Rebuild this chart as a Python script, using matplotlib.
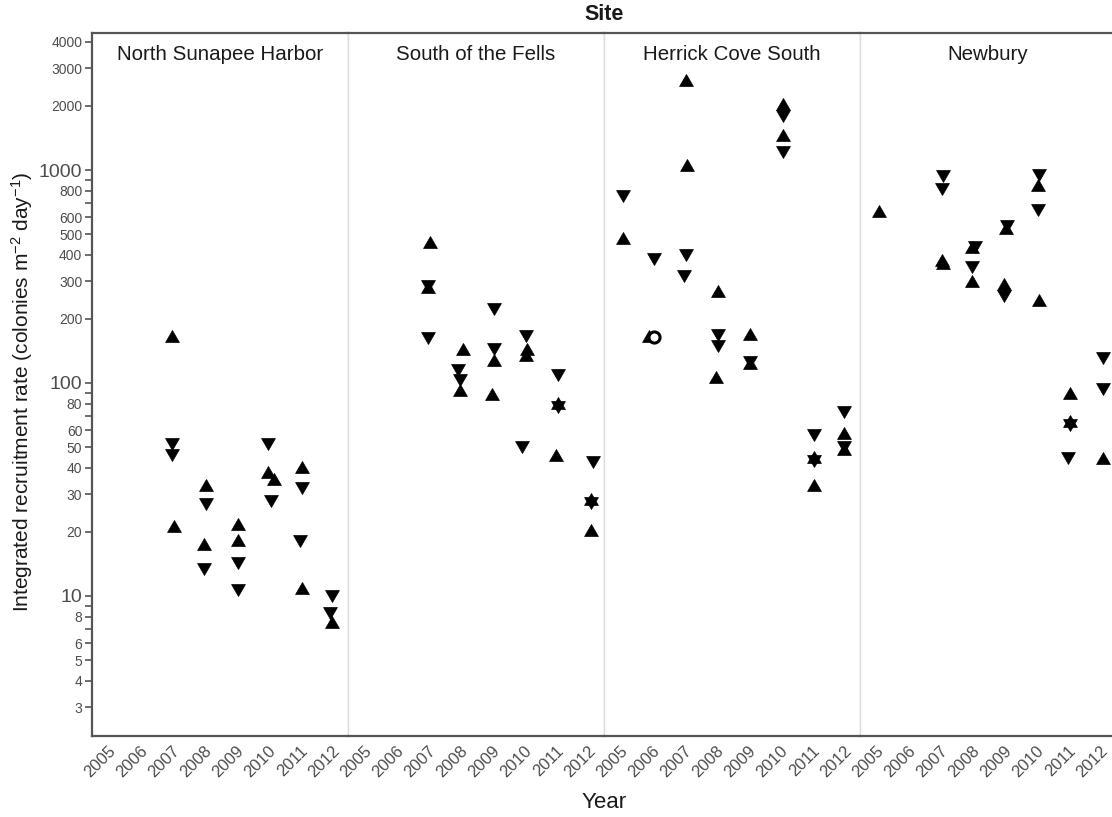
import matplotlib.pyplot as plt
import numpy as np
from matplotlib.path import Path
from matplotlib.ticker import FixedLocator, NullFormatter
from matplotlib.transforms import ScaledTranslation

plt.rcParams["font.family"] = ["Liberation Sans", "DejaVu Sans"]
plt.rcParams["mathtext.fontset"] = "custom"
plt.rcParams["mathtext.rm"] = "Liberation Sans"
plt.rcParams["mathtext.it"] = "Liberation Sans:italic"

YEARS = [2005, 2006, 2007, 2008, 2009, 2010, 2011, 2012]
SITES = ["North Sunapee Harbor", "South of the Fells", "Herrick Cove South", "Newbury"]

# North Sunapee Harbor
NSH_YEARS = [2007, 2007, 2007, 2007, 2008, 2008, 2008, 2008, 2009, 2009, 2009, 2009,
             2010, 2010, 2010, 2010, 2011, 2011, 2011, 2011, 2012, 2012, 2012]
NSH_VALUES = [163, 52.6, 46.8, 20.8, 32.4, 27.5, 17.1, 13.7, 21.3, 17.9, 14.6, 10.9,
              52.6, 37.2, 34.6, 28.5, 39.4, 32.7, 18.5, 10.7, 10.2, 8.5, 7.4]
NSH_SHAPES = ["up", "down", "down", "up", "up", "down", "up", "down", "up", "up", "down", "down",
              "down", "up", "up", "down", "up", "down", "down", "up", "down", "down", "up"]
NSH_SHIFT = [0, 0, 0, 0.05, 0.05, 0.05, 0, 0, 0.05, 0.05, 0.05, 0.05,
             0, 0, 0.2, 0.1, 0.05, 0.05, 0, 0.05, 0, -0.05, 0]

# South of the Fells
SOF_YEARS = [2007, 2007, 2007, 2007, 2008, 2008, 2008, 2008, 2009, 2009, 2009, 2009,
             2010, 2010, 2010, 2010, 2011, 2011, 2011, 2011, 2012, 2012, 2012, 2012]
SOF_VALUES = [450, 292, 275, 167, 142, 118, 106, 91, 228, 148, 125, 87,
              169, 141, 133, 51, 112, 79, 79, 44.8, 43.3, 27.9, 27.9, 20]
SOF_SHAPES = ["up", "down", "up", "down", "up", "down", "down", "up", "down", "down", "up", "up",
              "down", "up", "up", "down", "down", "up", "down", "up", "down", "up", "down", "up"]
SOF_SHIFT = [0.05, 0, 0, 0, 0.1, -0.05, 0, 0, 0.05, 0.05, 0.05, 0,
             0.05, 0.1, 0.05, -0.05, 0.05, 0.05, 0.05, 0, 0.15, 0.1, 0.1, 0.1]

# Herrick Cove South
HCS_YEARS = [2005, 2005, 2006, 2006, 2007, 2007, 2007, 2007, 2008, 2008, 2008, 2008,
             2009, 2009, 2009, 2010, 2010, 2010, 2010, 2011, 2011, 2011, 2011,
             2012, 2012, 2012, 2012]
HCS_VALUES = [773, 470, 392, 162, 2583, 1033, 408, 326, 266, 172, 152, 104,
              167, 128, 121, 2000, 1830, 1428, 1241, 58, 44, 44, 32.4,
              75, 56.8, 51, 48]
HCS_SHAPES = ["down", "up", "down", "up", "up", "up", "down", "down", "up", "down", "down", "up",
              "up", "down", "up", "up", "down", "up", "down", "down", "up", "down", "up",
              "down", "up", "down", "up"]
HCS_SHIFT = [0.1, 0.1, 0.05, -0.1, 0.05, 0.1, 0.05, 0, 0.05, 0.05, 0.05, 0,
             0.05, 0.05, 0.05, 0.1, 0.1, 0.1, 0.1, 0.05, 0.05, 0.05, 0.05,
             0, 0, 0, 0]
HCS_CIRCLE_YEARS = [2006]
HCS_CIRCLE_VALUES = [165]

# Newbury
NEW_YEARS = [2005, 2007, 2007, 2007, 2007, 2008, 2008, 2008, 2008,
             2009, 2009, 2009, 2009, 2010, 2010, 2010, 2010, 2011, 2011, 2011, 2011,
             2012, 2012, 2012]
NEW_VALUES = [630, 957, 832, 371, 359, 445, 428, 359, 296,
              560, 525, 285, 263, 968, 832, 664, 241, 88, 65, 65, 45.3,
              134, 96, 43.4]
NEW_SHAPES = ["up", "down", "down", "up", "up", "down", "up", "down", "up",
              "down", "up", "up", "down", "down", "up", "down", "up", "up", "up", "down", "down",
              "down", "down", "up"]
NEW_SHIFT = [0.1, 0.1, 0.05, 0.05, 0.1, 0.1, 0.0, 0, 0,
             0.1, 0.05, 0, 0, 0.1, 0.05, 0.05, 0.1, 0.05, 0.05, 0.05, 0,
             0.1, 0.1, 0.1]

Y_MAJOR = [3, 4, 5, 6, 8, 10, 20, 30, 40, 50, 60, 80, 100, 200, 300, 400, 500, 600, 800,
           1000, 2000, 3000, 4000]
Y_BIG = [10, 100, 1000]
Y_MINOR = [7, 9, 70, 90, 700, 900]

# ggplot-like triangles centred on their centroid (so overlaps make stars)
UP = Path([(0, 1), (-0.866, -0.5), (0.866, -0.5), (0, 1)],
          [Path.MOVETO, Path.LINETO, Path.LINETO, Path.CLOSEPOLY])
DOWN = Path([(0, -1), (-0.866, 0.5), (0.866, 0.5), (0, -1)],
            [Path.MOVETO, Path.LINETO, Path.LINETO, Path.CLOSEPOLY])

DARK = "#555555"
LIGHT = "#dcdcdc"
TXT = "#4d4d4d"

site_data = [
    (NSH_YEARS, NSH_VALUES, NSH_SHAPES, NSH_SHIFT),
    (SOF_YEARS, SOF_VALUES, SOF_SHAPES, SOF_SHIFT),
    (HCS_YEARS, HCS_VALUES, HCS_SHAPES, HCS_SHIFT),
    (NEW_YEARS, NEW_VALUES, NEW_SHAPES, NEW_SHIFT),
]

fig = plt.figure(figsize=(11.12, 8.17), dpi=100, facecolor="white")
W, H = 1112, 817
left, bottom, top = 92, 736, 33
pw = 256

axes = []
for i, (site, (yrs, vals, shapes, shift)) in enumerate(zip(SITES, site_data)):
    ax = fig.add_axes([(left + i * pw) / W, 1 - bottom / H, pw / W, (bottom - top) / H])
    axes.append(ax)
    ax.set_yscale("log")
    ax.set_ylim(2.2, 4400)
    ax.set_xlim(-0.5, len(YEARS) - 0.5)

    xs = np.array([YEARS.index(y) for y in yrs], dtype=float) + np.array(shift)
    vals = np.array(vals)
    shapes = np.array(shapes)
    for shp, mk in (("up", UP), ("down", DOWN)):
        m = shapes == shp
        ax.plot(xs[m], vals[m], ls="none", marker=mk, ms=11.5, color="black",
                mec="black", mew=0.5, zorder=3)
    if site == "Herrick Cove South":
        cx = [YEARS.index(y) + 0.05 for y in HCS_CIRCLE_YEARS]
        ax.plot(cx, HCS_CIRCLE_VALUES, ls="none", marker="o", ms=8, mfc="white",
                mec="black", mew=2.2, zorder=4)

    ax.text(0.5, 0.969, site, transform=ax.transAxes, ha="center", va="center",
            fontsize=14.8, color="#1a1a1a")

    for s in ("left", "right"):
        ax.spines[s].set_color(LIGHT)
        ax.spines[s].set_linewidth(1.0)
    for s in ("top", "bottom"):
        ax.spines[s].set_color(DARK)
        ax.spines[s].set_linewidth(1.6)

    ax.set_xticks(range(len(YEARS)))
    ax.set_xticklabels([str(y) for y in YEARS], rotation=45, ha="right", va="top",
                       rotation_mode="anchor", fontsize=12, color=TXT)
    offset = ScaledTranslation(0.12, 0, fig.dpi_scale_trans)
    for lab in ax.get_xticklabels():
        lab.set_transform(lab.get_transform() + offset)
    ax.tick_params(axis="x", length=0, pad=5)

    ax.yaxis.set_major_locator(FixedLocator(Y_MAJOR))
    ax.yaxis.set_minor_locator(FixedLocator(Y_MINOR))
    ax.yaxis.set_minor_formatter(NullFormatter())
    if i == 0:
        ax.set_yticklabels([str(v) for v in Y_MAJOR])
        for lab, v in zip(ax.get_yticklabels(), Y_MAJOR):
            lab.set_color(TXT)
            lab.set_fontsize(14 if v in Y_BIG else 10)
        ax.tick_params(axis="y", which="both", length=5, width=1.2, color=DARK, pad=2)
        ax.spines["left"].set_color(DARK)
        ax.spines["left"].set_linewidth(1.6)
    else:
        ax.tick_params(axis="y", which="both", left=False, labelleft=False)

fig.text((left + 2 * pw) / W, 1 - 15 / H, "Site", ha="center", va="center",
         fontsize=15.5, fontweight="bold", color="#1a1a1a")
fig.text((left + 2 * pw) / W, 1 - 803 / H, "Year", ha="center", va="center",
         fontsize=16, color="#1a1a1a")
fig.text(22 / W, 1 - 392 / H, "Integrated recruitment rate (colonies m$^{-2}$ day$^{-1}$)",
         rotation=90, ha="center", va="center", fontsize=15, color="#1a1a1a")

fig.savefig("out.png", dpi=100, facecolor="white")
